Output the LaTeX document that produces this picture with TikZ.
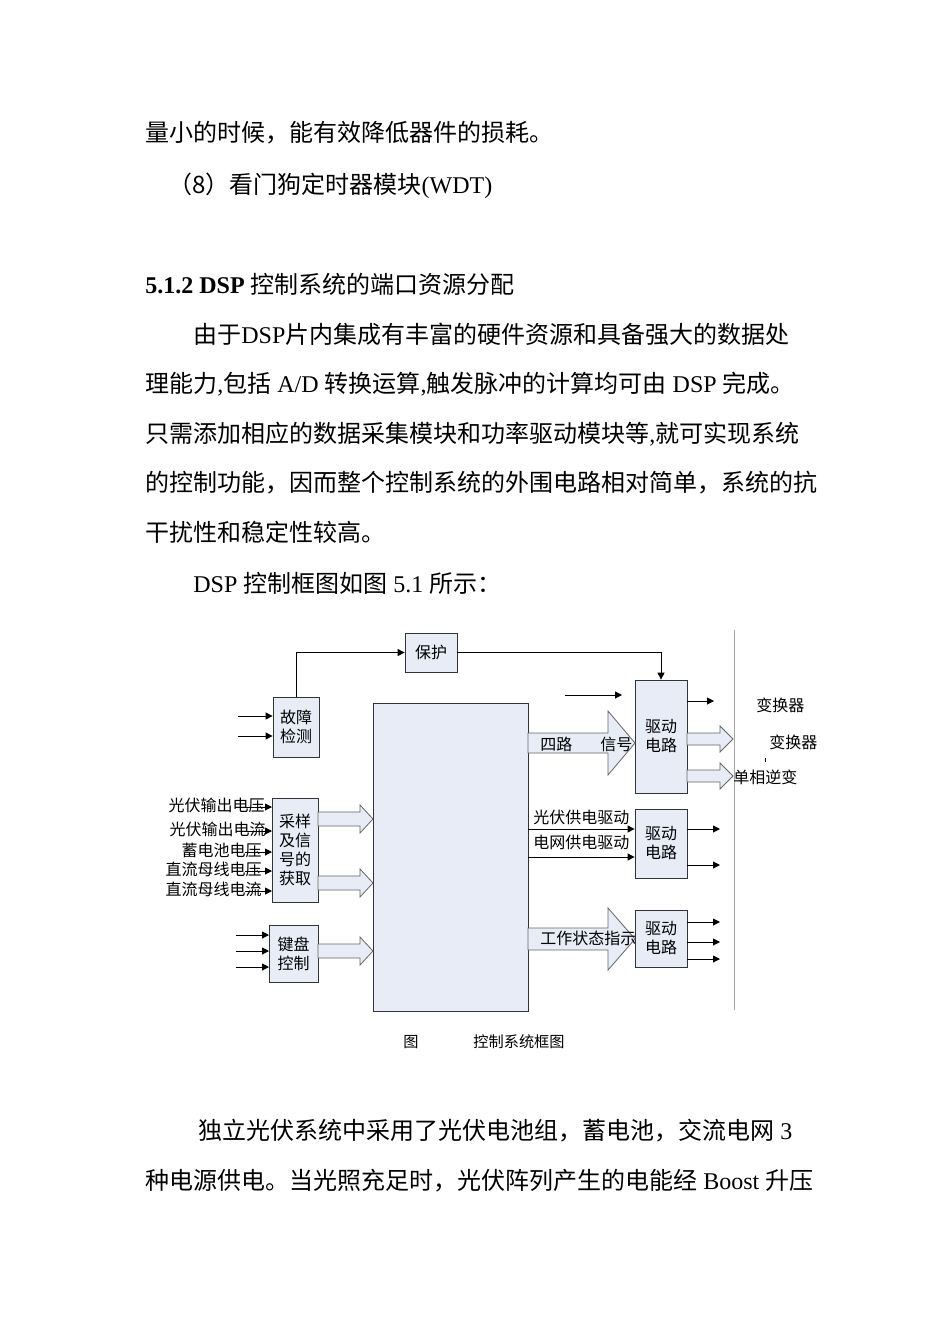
\documentclass[tikz,border=0pt]{standalone}
\usepackage{fontspec}
\setmainfont{Liberation Serif}
\newfontfamily\cjk{Noto Sans CJK SC}
\usetikzlibrary{arrows.meta}
\newcommand\E[1]{{\rmfamily #1}}
\newcommand\bx[6]{\node[dbox,minimum width={0.5pt*(#4-#2)},minimum height={0.5pt*(#5-#3)}] (#1) at ({(#2+#4)/2},{(#3+#5)/2}) {#6};}
\newcommand\harr[6]{\draw[hol] (#1,{#4-#5})--(#3,{#4-#5})--(#3,{#4-#6})--(#2,#4)--(#3,{#4+#6})--(#3,{#4+#5})--(#1,{#4+#5})--cycle;}
\definecolor{fillb}{HTML}{E8ECF7}
\begin{document}
\begin{tikzpicture}[x=0.5pt,y=-0.5pt,
  body/.style={anchor=west,inner sep=0,font=\fontsize{12}{14}\selectfont\cjk},
  dbox/.style={draw=black!80,fill=fillb,inner sep=0,align=center,font=\fontsize{8}{9.5}\selectfont\cjk},
  hol/.style={draw=black!60,fill=fillb},
  arr/.style={-{Triangle[length=3.5pt,width=3.5pt]},line width=0.5pt},
  lab/.style={inner sep=0,font=\fontsize{8}{9}\selectfont\cjk}]
\useasboundingbox (0,0) rectangle (950,1344);
\fill[white] (0,0) rectangle (950,1344);
% body text
\node[body] (t1) at (145,133) {量小的时候，能有效降低器件的损耗。};
\node[body] (t2) at (168,186) {（8）看门狗定时器模块\E{(WDT)}};
\node[body] (t3) at (145,284) {\E{\bfseries 5.1.2 DSP }控制系统的端口资源分配};
\node[body] (t4) at (193,334) {由于\E{DSP}片内集成有丰富的硬件资源和具备强大的数据处};
\node[body] (t5) at (145,384) {理能力\E{,}包括\E{ A/D }转换运算\E{,}触发脉冲的计算均可由\E{ DSP }完成。};
\node[body] (t6) at (145,434) {只需添加相应的数据采集模块和功率驱动模块等\E{,}就可实现系统};
\node[body] (t7) at (145,483) {的控制功能，因而整个控制系统的外围电路相对简单，系统的抗};
\node[body] (t8) at (145,532) {干扰性和稳定性较高。};
\node[body] (t9) at (193,583) {\E{DSP }控制框图如图\E{ 5.1 }所示：};
\node[body] (t10) at (198,1131) {独立光伏系统中采用了光伏电池组，蓄电池，交流电网\E{ 3}};
\node[body] (t11) at (145,1181) {种电源供电。当光照充足时，光伏阵列产生的电能经\E{ Boost }升压};
% caption
\node[lab,anchor=west,font=\fontsize{7.6}{9}\selectfont\cjk] (c1) at (403,1042) {图};
\node[lab,anchor=west,font=\fontsize{7.6}{9}\selectfont\cjk] (c2) at (473,1042) {控制系统框图};
% separator
\draw[black!35] (734,630) -- (734,1010);
% boxes
\bx{prot}{405}{633}{457}{672}{保护}
\bx{fault}{273}{697}{319}{757}{故障\\检测}
\bx{main}{373}{703}{528}{1011}{}
\bx{samp}{272}{798}{318}{902}{采样\\及信\\号的\\获取}
\bx{kbd}{269}{925}{318}{982}{键盘\\控制}
\bx{drv1}{635}{680}{687}{793}{驱动\\电路}
\bx{drv2}{635}{809}{687}{878}{驱动\\电路}
\bx{drv3}{635}{910}{687}{967}{驱动\\电路}
% protection lines
\draw[arr] (fault.north) |- (prot.west);
\draw[arr] (prot.east) -| (drv1.north);
% fault inputs
\coordinate (f1) at (238,716); \coordinate (f2) at (238,736);
\draw[arr] (f1) -- (f1 -| fault.west);
\draw[arr] (f2) -- (f2 -| fault.west);
% sampling labels and inputs
\foreach \y/\x/\t in {805/265/光伏输出电压,829/266/光伏输出电流,850/262/蓄电池电压,869/262/直流母线电压,889/262/直流母线电流}{
  \node[lab,anchor=east] at (\x,\y) {\t};
  \draw[arr] (245,\y+2) -- (272,\y+2);}
\harr{318}{373}{360}{819}{7}{14}
\harr{318}{373}{360}{883}{7}{14}
% keyboard
\foreach \y in {935,951,967}{\draw[arr] (236,\y) -- (269,\y);}
\harr{318}{373}{360}{951}{7}{14}
% drive1
\coordinate (d1in) at (565,695);
\draw[arr] (d1in) -- (622,695);
\harr{528}{635}{608}{743}{10}{32}
\node[lab,anchor=west] at (540,744) {四路\hspace{14pt}信号};
\draw[arr] (687,701) -- (714,701);
\harr{687}{733}{720}{739}{6}{13}
\harr{687}{733}{720}{776}{6}{13}
\node[lab,anchor=west] at (756,705) {变换器};
\node[lab,anchor=west] at (769,742) {变换器};
\node[lab,anchor=west] at (733,777) {单相逆变};
\draw (765,758) -- (765,762);
% drive2
\draw[arr] (main.east |- 0,829) -- (drv2.west |- 0,829);
\draw[arr] (main.east |- 0,857) -- (drv2.west |- 0,857);
\node[lab,anchor=west] at (533,817) {光伏供电驱动};
\node[lab,anchor=west] at (533,842) {电网供电驱动};
\draw[arr] (687,829) -- (720,829);
\draw[arr] (687,865) -- (720,865);
% drive3
\harr{528}{635}{608}{939}{11}{31}
\node[lab,anchor=west] at (540,938) {工作状态指示};
\foreach \y in {922,942,959}{\draw[arr] (687,\y) -- (720,\y);}
\end{tikzpicture}
\end{document}
